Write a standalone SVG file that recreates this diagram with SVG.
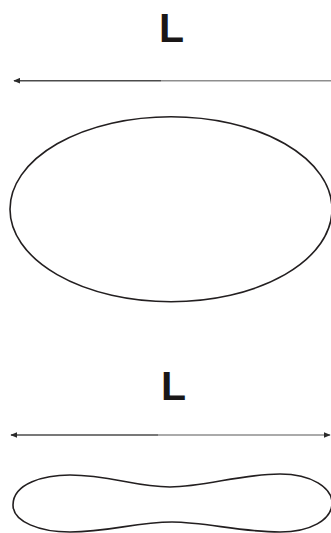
<svg xmlns="http://www.w3.org/2000/svg" width="331" height="533" viewBox="0 0 331 533">
<defs>
<style>
.lbl{font-family:"Liberation Sans",Arial,sans-serif;font-weight:bold;font-size:41px;fill:#1a1717}
.shape{fill:none;stroke:#231f20;stroke-width:1.6}
.dk{stroke:#4b4b4b;stroke-width:1.6;fill:none}
.lt{stroke:#8e8e8e;stroke-width:1.6;fill:none}
</style>
<marker id="ah" viewBox="0 0 10 10" refX="9" refY="5" markerWidth="7" markerHeight="6" orient="auto-start-reverse" markerUnits="userSpaceOnUse" preserveAspectRatio="none">
<path d="M10,5 L0,0 L0,10 Z" fill="#2a2a2a"/>
</marker>
</defs>
<g id="top-label"><text class="lbl" x="159" y="42">L</text></g>
<g id="ellipse"><ellipse class="shape" cx="171" cy="209.2" rx="161" ry="92.5"/></g>
<g id="bottom-label"><text class="lbl" x="161" y="399.5">L</text></g>
<g id="peanut"><path class="shape" d="M13,505 C13,483 45,475 70,475 C110,475 135,487 170,487 C205,487 240,474 280,474 C312,474 332,488 332,503 C332,520 310,532 280,532 C240,532 205,522 172,522 C135,522 110,532 70,532 C40,532 13,522 13,505 Z"/></g>
<g id="connectors">
<line class="dk" x1="14" y1="80.7" x2="161" y2="80.7" marker-start="url(#ah)"/>
<line class="lt" x1="161" y1="80.7" x2="331" y2="80.7"/>
<line class="dk" x1="11" y1="435" x2="158" y2="435" marker-start="url(#ah)"/>
<line class="lt" x1="158" y1="435" x2="330" y2="435" marker-end="url(#ah)"/>
</g>
</svg>
